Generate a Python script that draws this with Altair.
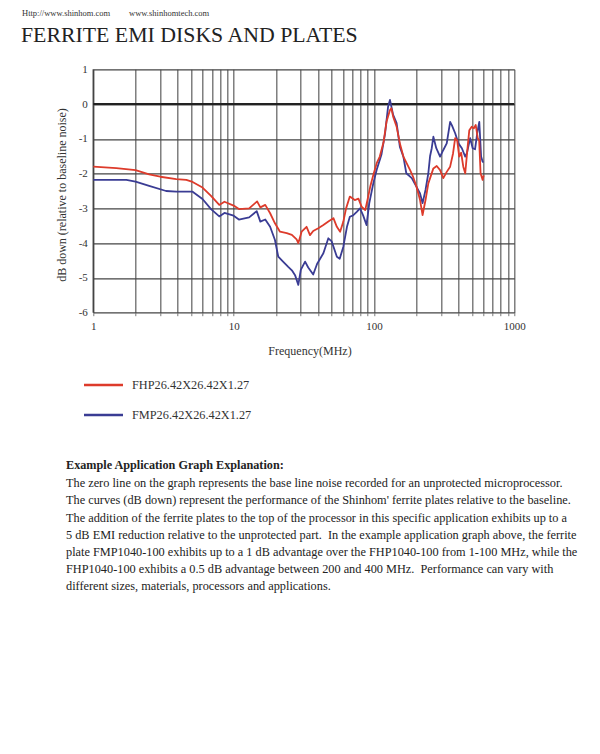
import altair as alt
import pandas as pd

# ---------------- data ----------------
series_names = ["FHP26.42X26.42X1.27", "FMP26.42X26.42X1.27"]
series_colors = ["#dd3b2b", "#3a3c94"]

red_freq = [1, 1.46, 2, 2.5, 3, 3.9, 4.6, 5.1, 6, 6.9, 7.9, 8.6, 10, 10.9, 12.9,
            14.7, 15.5, 16.8, 18.2, 19.7, 21.4, 23.9, 26, 28.1, 28.9, 30.5, 33.1,
            35, 36.9, 40.1, 43.6, 47.3, 51.4, 54.4, 57.4, 60.5, 63.3, 67.3, 73,
            77.5, 81.6, 86.6, 89.9, 94, 98.9, 104.6, 110, 117, 123, 130, 133, 137,
            145, 153, 162, 181, 190, 201, 213, 222, 233, 244, 265, 280, 296, 312,
            330, 349, 366, 379, 392, 405, 418, 433, 447, 465, 478, 497, 515, 531,
            549, 562, 575, 595, 605]
red_db = [-1.80, -1.84, -1.90, -2.02, -2.09, -2.16, -2.18, -2.24, -2.40, -2.64,
          -2.90, -2.81, -2.92, -3.02, -3.00, -2.80, -2.97, -2.90, -3.14, -3.43,
          -3.67, -3.71, -3.76, -3.89, -4.00, -3.67, -3.53, -3.77, -3.65, -3.57,
          -3.48, -3.38, -3.28, -3.53, -3.67, -3.38, -3.00, -2.66, -2.76, -2.72,
          -2.95, -3.05, -2.76, -2.38, -2.04, -1.70, -1.51, -1.10, -0.50, -0.17,
          -0.12, -0.36, -0.65, -1.13, -1.51, -1.90, -2.09, -2.38, -2.76, -3.19,
          -2.76, -2.28, -1.85, -1.78, -1.90, -2.13, -1.95, -1.80, -1.42, -0.98,
          -1.05, -1.51, -1.40, -1.80, -1.99, -1.23, -0.75, -0.65, -0.70, -0.60,
          -0.98, -1.05, -1.99, -2.18, -2.05]

blue_freq = [1, 1.72, 2, 2.5, 3.3, 3.9, 5.1, 6, 6.9, 7.9, 8.6, 10, 10.9, 12.9,
             14.6, 15.5, 16.8, 18.2, 19.7, 20.8, 22.5, 24.5, 26, 27.4, 28.9, 30.1,
             32.3, 34, 36.9, 39.3, 43.6, 47.3, 50, 54.4, 57, 60.5, 64.2, 67.3, 71,
             75.4, 79.5, 83.7, 88.5, 92.6, 98.9, 104.6, 113, 120, 126, 130, 137,
             145, 153, 162, 170, 186, 201, 213, 222, 233, 244, 251, 258, 265, 278,
             296, 312, 330, 349, 360, 379, 400, 423, 447, 460, 485, 505, 525, 544,
             563, 580, 595, 605]
blue_db = [-2.18, -2.18, -2.23, -2.35, -2.50, -2.52, -2.52, -2.73, -3.02, -3.23,
           -3.13, -3.21, -3.32, -3.26, -3.08, -3.38, -3.32, -3.53, -3.91, -4.39,
           -4.53, -4.68, -4.78, -4.92, -5.20, -4.77, -4.53, -4.70, -4.90, -4.60,
           -4.29, -3.86, -3.95, -4.39, -4.45, -4.10, -3.53, -3.24, -3.20, -3.10,
           -3.00, -3.20, -3.48, -2.85, -2.28, -1.89, -1.46, -0.84, -0.08, 0.12,
           -0.31, -0.55, -1.23, -1.51, -1.99, -2.13, -2.38, -2.57, -2.85, -2.47,
           -1.99, -1.50, -1.27, -0.94, -1.27, -1.51, -1.32, -1.13, -0.51, -0.62,
           -0.84, -1.13, -1.27, -1.51, -1.40, -0.98, -1.27, -1.30, -0.84, -0.51,
           -1.51, -1.66, -1.66]

grid_freqs = [1, 2, 3, 4, 5, 6, 7, 8, 9, 10, 20, 30, 40, 50, 60, 70, 80, 90, 100,
              200, 300, 400, 500, 600, 700, 800, 900, 1000]
label_freqs = [1, 10, 100, 1000]
y_ticks = [1, 0, -1, -2, -3, -4, -5, -6]

header_left = "Http://www.shinhom.com"
header_right = "www.shinhomtech.com"
page_title = "FERRITE EMI DISKS AND PLATES"
y_title = "dB down (relative to baseline noise)"
x_title = "Frequency(MHz)"
para_title = "Example Application Graph Explanation:"
para_lines = [
    "The zero line on the graph represents the base line noise recorded for an unprotected microprocessor.",
    "The curves (dB down) represent the performance of the Shinhom' ferrite plates relative to the baseline.",
    "The addition of the ferrite plates to the top of the processor in this specific application exhibits up to a",
    "5 dB EMI reduction relative to the unprotected part.\u00a0 In the example application graph above, the ferrite",
    "plate FMP1040-100 exhibits up to a 1 dB advantage over the FHP1040-100 from 1-100 MHz, while the",
    "FHP1040-100 exhibits a 0.5 dB advantage between 200 and 400 MHz.\u00a0 Performance can vary with",
    "different sizes, materials, processors and applications.",
]

# ---------------- layout ----------------
FONT = "Liberation Serif"
X0, Y0 = 93.3, 69.3          # plot origin on the page
W, H = 421, 243.4            # plot size


def rx(x):
    return x - X0


def ry(y):
    return y - Y0


df = pd.concat([
    pd.DataFrame({"freq": blue_freq, "db": blue_db, "series": series_names[1], "o": 0}),
    pd.DataFrame({"freq": red_freq, "db": red_db, "series": series_names[0], "o": 1}),
])

x_scale = alt.Scale(type="log", domain=[1, 1000], nice=False)
y_scale = alt.Scale(domain=[-6, 1], nice=False, zero=False)

label_test = "indexof([" + ",".join(str(v) for v in label_freqs) + "], datum.value) >= 0"

x_axis = alt.Axis(
    values=grid_freqs, labelExpr=label_test + " ? datum.value + '' : ''",
    grid=True, gridColor="#6a6a6a", gridWidth=1.3, domain=False,
    ticks=True, tickSize=3, tickColor="#7a7a7a", tickWidth=1,
    labelFont=FONT, labelFontSize=11, labelColor="#333333", labelPadding=5,
    labelFlush=False, labelOverlap=False, title=None)
y_axis = alt.Axis(
    values=y_ticks, labelExpr="'' + datum.value",
    grid=True, gridColor="#444444", gridWidth=1.3, domain=False, ticks=False,
    labelFont=FONT, labelFontSize=11, labelColor="#333333", labelPadding=6,
    labelOverlap=False, title=None)

lines = alt.Chart(df).mark_line(strokeWidth=1.8, strokeJoin="round").encode(
    x=alt.X("freq:Q", scale=x_scale, axis=x_axis),
    y=alt.Y("db:Q", scale=y_scale, axis=y_axis),
    color=alt.Color("series:N", scale=alt.Scale(domain=series_names, range=series_colors), legend=None),
    detail="o:N",
)

zero_rule = alt.Chart(pd.DataFrame({"db": [0]})).mark_rule(color="#222222", strokeWidth=2).encode(
    y=alt.Y("db:Q", scale=y_scale, axis=y_axis)
)
left_rule = alt.Chart(pd.DataFrame({"freq": [1]})).mark_rule(color="#444444", strokeWidth=1.5).encode(
    x=alt.X("freq:Q", scale=x_scale, axis=x_axis)
)


def text_layer(txt, x, y, size, align="left", weight="normal", color="#222222", angle=0, baseline="middle", **kw):
    return alt.Chart(pd.DataFrame({"t": [txt]})).mark_text(
        align=align, baseline=baseline, font=FONT, fontSize=size, fontWeight=weight,
        color=color, angle=angle, **kw
    ).encode(text="t:N", x=alt.value(rx(x)), y=alt.value(ry(y)))


layers = [left_rule, zero_rule, lines]

# header + title
layers.append(text_layer(header_left, 22, 13, 8.5, color="#333333"))
layers.append(text_layer(header_right, 129, 13, 8.5, color="#333333"))
layers.append(text_layer(page_title, 21, 42, 21.8, baseline="alphabetic", color="#222222"))

# axis titles
layers.append(text_layer(y_title, 62, 195, 12, align="center", angle=270, color="#333333"))
layers.append(text_layer(x_title, 310, 351, 12, align="center", color="#333333"))

# legend
for i, (name, col) in enumerate(zip(series_names, series_colors)):
    yy = 385 + 30 * i
    layers.append(
        alt.Chart(pd.DataFrame({"s": [name]})).mark_rule(color=col, strokeWidth=2.6).encode(
            x=alt.value(rx(84)), x2=alt.value(rx(123)), y=alt.value(ry(yy))
        )
    )
    layers.append(text_layer(name, 132, yy, 12.3, color="#333333"))

# paragraph
layers.append(text_layer(para_title, 66, 465, 12.2, weight="bold", color="#222222"))
layers.append(alt.Chart(pd.DataFrame({"t": ["\n".join(para_lines)]})).mark_text(
    align="left", baseline="middle", font=FONT, fontSize=12.3, color="#222222",
    lineBreak="\n", lineHeight=17.2
).encode(text="t:N", x=alt.value(rx(66)), y=alt.value(ry(483.3))))

chart = alt.layer(*layers).properties(
    width=W, height=H,
    autosize=alt.AutoSizeParams(type="none"),
    padding={"left": X0 - 8, "top": Y0 - 8, "right": 584 - (X0 - 8) - W, "bottom": 738 - (Y0 - 8) - H},
    background="white",
).configure_view(stroke=None)

chart.save("out.html", embed_options={"renderer": "svg", "actions": False})
